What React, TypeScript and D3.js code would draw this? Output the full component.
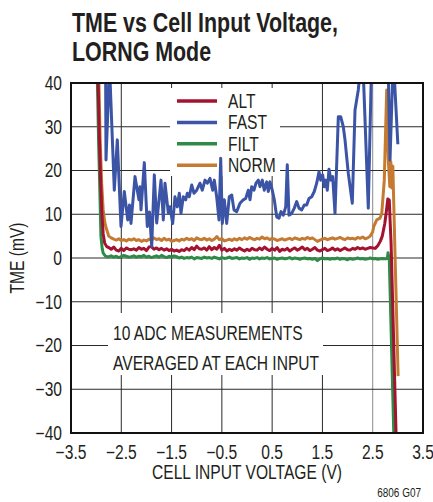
import React from 'react';
import * as d3 from 'd3';

const TITLE_LINES = ['TME vs Cell Input Voltage,', 'LORNG Mode'];
const X_LABEL = 'CELL INPUT VOLTAGE (V)';
const Y_LABEL = 'TME (mV)';
const NOTE_LINES = ['10 ADC MEASUREMENTS', 'AVERAGED AT EACH INPUT'];
const FIG_ID = '6806 G07';

const X_TICKS = [-3.5, -2.5, -1.5, -0.5, 0.5, 1.5, 2.5, 3.5];
const Y_TICKS = [-40, -30, -20, -10, 0, 10, 20, 30, 40];

const SERIES_NAMES = ['ALT', 'FAST', 'FILT', 'NORM'];
const SERIES_COLORS: Record<string, string> = {
  ALT: '#a3132f',
  FAST: '#3b54a6',
  FILT: '#2f8a48',
  NORM: '#c47a30',
};

// flat-region samples start at -2.75 V, every 0.05 V
const BASE_START = -2.75;
const BASE_STEP = 0.05;

const ALT_HEAD: [number, number][] = [
  [-2.99, 48], [-2.96, 40], [-2.935, 27], [-2.91, 17.5], [-2.885, 10],
  [-2.86, 5.5], [-2.83, 3.4], [-2.79, 2.6],
];
const ALT_BASE = [
  2.4, 2.0, 2.5, 1.8, 1.6, 2.2, 1.7, 2.3, 2.0, 1.9,
  2.1, 1.8, 2.4, 2.0, 2.2, 1.7, 2.5, 2.6, 2.0, 2.3,
  1.9, 2.2, 1.8, 2.1, 1.7, 2.0, 1.6, 1.8, 1.5, 1.9,
  1.7, 2.2, 1.8, 2.4, 1.9, 2.7, 2.1, 2.0, 2.3, 1.8,
  2.6, 1.9, 2.4, 2.0, 2.9, 1.8, 2.2, 1.6, 2.0, 1.7,
  2.1, 1.8, 2.3, 1.9, 1.6, 2.0, 1.7, 2.2, 1.9, 1.8,
  2.3, 1.9, 2.5, 2.0, 1.7, 2.2, 1.8, 2.4, 1.5, 2.0,
  1.8, 2.2, 1.6, 2.0, 2.3, 1.8, 2.1, 2.5, 1.9, 2.2,
  1.7, 2.0, 2.4, 1.8, 1.6, 1.9, 2.2, 1.7, 1.9, 2.3,
  1.8, 2.1, 1.7, 2.0, 2.3, 1.9, 1.8, 2.2, 2.0, 2.4,
  2.1, 2.3, 2.0, 2.2, 2.4, 2.3,
];
const ALT_TAIL: [number, number][] = [
  [2.55, 2.2], [2.6, 2.8], [2.65, 3.8], [2.69, 5.0], [2.74, 7.9], [2.77, 10.5],
  [2.8, 13.5], [2.83, 13.2], [2.845, 8.7], [2.865, 3.5], [2.965, -40.5], [2.97, -45],
];

const NORM_HEAD: [number, number][] = [
  [-2.96, 48], [-2.945, 40], [-2.92, 27], [-2.89, 17], [-2.86, 11],
  [-2.83, 8.3], [-2.8, 6.8], [-2.77, 5.8],
];
const NORM_BASE = [
  5.0, 4.6, 4.3, 4.1, 4.4, 4.0, 4.2, 3.9, 4.3, 4.1,
  4.4, 4.0, 4.2, 3.8, 4.1, 3.9, 4.3, 4.1, 4.6, 4.2,
  4.4, 4.0, 4.5, 4.1, 4.3, 3.8, 4.0, 4.2, 3.9, 4.3,
  4.1, 4.5, 4.2, 4.4, 4.0, 4.6, 4.3, 4.2, 4.5, 4.1,
  4.4, 4.0, 4.3, 4.9, 4.2, 4.4, 3.9, 4.1, 4.3, 4.0,
  4.4, 4.1, 4.5, 4.2, 4.6, 4.3, 4.7, 4.4, 4.2, 4.5,
  4.3, 4.8, 4.4, 4.6, 4.2, 4.5, 4.3, 4.0, 4.2, 4.4,
  4.1, 4.3, 4.5, 4.2, 4.6, 4.4, 4.2, 4.5, 4.3, 4.7,
  4.4, 4.6, 4.2, 3.8, 4.1, 4.3, 4.5, 4.2, 4.4, 4.6,
  4.3, 4.5, 4.7, 4.4, 4.2, 4.6, 4.4, 4.5, 4.3, 4.7,
  4.5, 4.8, 4.4, 4.6, 5.0,
];
const NORM_TAIL: [number, number][] = [
  [2.5, 6.0], [2.52, 7.2], [2.58, 8.7], [2.645, 9.1], [2.68, 10.2], [2.73, 17.8],
  [2.778, 38.4], [2.81, 22.4], [2.84, 16.3], [2.86, 22.0], [2.88, 16.0],
  [2.9, 21.0], [2.91, 16.3], [3.005, -27],
];

const FILT_HEAD: [number, number][] = [
  [-2.985, 48], [-2.975, 40], [-2.95, 26], [-2.93, 17], [-2.905, 5],
  [-2.88, 2.2], [-2.86, 1.1], [-2.82, 0.5], [-2.79, 0.3],
];
const FILT_BASE = [
  0.3, 0.5, 0.2, 0.4, 0.1, 0.3, 0.6, 0.4, 0.2, 0.3,
  0.5, 0.2, 0.4, 0.3, 0.6, 0.2, 0.4, 0.1, 0.3, 0.5,
  0.2, 0.6, 0.3, 0.1, 0.4, 0.2, 0.5, 0.3, 0.0, 0.2,
  -0.1, 0.1, 0.0, 0.2, -0.2, 0.1, 0.0, -0.1, 0.2, 0.0,
  0.1, -0.1, 0.2, 0.0, -0.2, 0.1, -0.1, 0.0, 0.2, -0.1,
  0.0, 0.1, -0.2, 0.0, -0.1, 0.1, -0.3, 0.0, -0.1, 0.1,
  -0.2, 0.0, -0.1, 0.1, -0.2, -0.1, 0.0, -0.3, -0.1, 0.0,
  -0.2, -0.1, 0.1, -0.2, 0.0, -0.1, -0.3, -0.1, 0.0, -0.2,
  -0.1, -0.3, -0.1, -0.6, -0.2, 0.0, -0.2, -0.1, -0.3, -0.1,
  -0.2, 0.0, -0.3, -0.1, -0.2, -0.4, -0.1, -0.3, -0.2, 0.0,
  -0.2, -0.1, -0.3, -0.2, 0.0, -0.2, -0.1, -0.3, -0.2, -0.1, -0.2,
];
const FILT_TAIL: [number, number][] = [
  [2.79, -0.1], [2.805, 1.2], [2.83, -0.5], [2.92, -40.5], [2.925, -45],
];

const FAST_POINTS: [number, number][] = [
  [-2.814, 48], [-2.804, 22.4], [-2.734, 44], [-2.639, 15.5], [-2.579, 27.0],
  [-2.506, 7.2], [-2.44, 15.2], [-2.372, 8.7], [-2.337, 12.1], [-2.307, 7.9],
  [-2.227, 18.6], [-2.182, 15.5], [-2.148, 13.3], [-2.128, 16.3], [-2.108, 11.0],
  [-2.042, 21.8], [-1.983, 7.2], [-1.939, 10.5], [-1.895, 2.6], [-1.843, 19.0],
  [-1.796, 8.0], [-1.71, 17.8], [-1.664, 8.7], [-1.631, 17.1], [-1.565, 10.3],
  [-1.531, 11.7], [-1.478, 7.9], [-1.432, 14.0], [-1.386, 11.7], [-1.346, 14.8],
  [-1.313, 10.2], [-1.267, 14.0], [-1.219, 13.3], [-1.187, 14.8], [-1.148, 14.0],
  [-1.1, 16.7], [-1.054, 14.8], [-1.0, 15.5], [-0.935, 17.1], [-0.889, 15.5],
  [-0.835, 17.8], [-0.79, 17.1], [-0.736, 18.2], [-0.682, 15.5], [-0.65, 17.8],
  [-0.603, 14.0], [-0.557, 8.7], [-0.523, 22.8], [-0.491, 7.9], [-0.451, 13.3],
  [-0.404, 7.9], [-0.352, 14.0], [-0.304, 14.4], [-0.259, 11.0], [-0.205, 10.6],
  [-0.139, 12.5], [-0.074, 13.3], [-0.026, 13.6], [0.026, 15.5], [0.06, 13.3],
  [0.093, 16.3], [0.139, 15.5], [0.179, 17.1], [0.225, 17.8], [0.258, 16.3],
  [0.304, 17.8], [0.344, 15.5], [0.392, 17.4], [0.424, 15.2], [0.457, 17.4],
  [0.503, 15.5], [0.543, 13.3], [0.591, 9.4], [0.636, 9.1], [0.676, 10.6],
  [0.722, 9.8], [0.77, 11.7], [0.801, 21.3], [0.835, 9.8], [0.889, 10.2],
  [0.941, 11.4], [0.988, 12.9], [1.034, 11.4], [1.088, 11.0], [1.14, 12.1],
  [1.187, 12.1], [1.233, 13.6], [1.287, 14.0], [1.338, 15.2], [1.386, 17.1],
  [1.432, 19.7], [1.466, 17.8], [1.505, 19.0], [1.537, 16.3], [1.565, 17.8],
  [1.597, 15.5], [1.631, 20.3], [1.67, 17.8], [1.704, 18.6], [1.75, 10.2],
  [1.784, 21.6], [1.816, 32.3], [1.863, 32.3], [1.915, 30.0], [1.949, 27.0],
  [2.014, 19.4], [2.094, 12.5], [2.148, 33.8], [2.213, 38.4], [2.277, 46],
  [2.307, 44], [2.412, 11.4], [2.48, 46], [2.65, 60], [2.81, 42],
  [2.844, 22.4], [2.909, 46], [3.0, 26.0],
];

function buildSeries(head: [number, number][], base: number[], tail: [number, number][]) {
  return [
    ...head,
    ...base.map((y, i) => [BASE_START + i * BASE_STEP, y] as [number, number]),
    ...tail,
  ];
}

const SERIES: Record<string, [number, number][]> = {
  ALT: buildSeries(ALT_HEAD, ALT_BASE, ALT_TAIL),
  FAST: FAST_POINTS,
  FILT: buildSeries(FILT_HEAD, FILT_BASE, FILT_TAIL),
  NORM: buildSeries(NORM_HEAD, NORM_BASE, NORM_TAIL),
};
const DRAW_ORDER = ['NORM', 'FILT', 'ALT', 'FAST'];

const W = 433;
const H = 502;
const M = { left: 71, right: 423, top: 83, bottom: 433 };
const FONT = "'Liberation Sans', Arial, sans-serif";
const TXT = '#231f20';
const NARROW = 0.8;

const fmtX = (v: number) => (v < 0 ? '\u2212' : '') + Math.abs(v).toFixed(1);
const fmtY = (v: number) => (v < 0 ? '\u2212' : '') + Math.abs(v);

type NTProps = {
  x: number;
  y: number;
  size: number;
  anchor?: 'start' | 'middle' | 'end';
  weight?: string;
  rotate?: number;
  dy?: string;
  sx?: number;
  children: React.ReactNode;
};

function NText({ x, y, size, anchor = 'start', weight = 'normal', rotate = 0, dy, sx = NARROW, children }: NTProps) {
  return (
    <text
      transform={`translate(${x},${y}) rotate(${rotate}) scale(${sx},1)`}
      textAnchor={anchor}
      fontSize={size}
      fontWeight={weight}
      fill={TXT}
      dy={dy}
    >
      {children}
    </text>
  );
}

export default function App() {
  const x = d3.scaleLinear().domain([-3.5, 3.5]).range([M.left, M.right]);
  const y = d3.scaleLinear().domain([-40, 40]).range([M.bottom, M.top]);
  const line = d3
    .line<[number, number]>()
    .x((d) => x(d[0]))
    .y((d) => y(d[1]));

  const legendY0 = 101;
  const legendDy = 21.4;

  return (
    <svg
      width={W}
      height={H}
      style={{ position: 'absolute', left: 0, top: 0, background: '#fff' }}
      fontFamily={FONT}
    >
      <defs>
        <clipPath id="plotClip">
          <rect x={M.left} y={M.top} width={M.right - M.left} height={M.bottom - M.top} />
        </clipPath>
      </defs>
      <rect x={0} y={0} width={W} height={H} fill="#fff" />

      {TITLE_LINES.map((t, i) => (
        <NText key={t} x={72} y={32 + i * 29} size={28} weight="bold" sx={0.765}>
          {t}
        </NText>
      ))}

      {/* grid */}
      {X_TICKS.map((v) => (
        <line
          key={'gx' + v}
          x1={x(v)}
          x2={x(v)}
          y1={M.top}
          y2={M.bottom}
          stroke={v === 2.5 ? '#8a8a8a' : '#2a2a2a'}
          strokeWidth={1}
        />
      ))}
      {Y_TICKS.map((v) => (
        <line
          key={'gy' + v}
          x1={M.left}
          x2={M.right}
          y1={y(v)}
          y2={y(v)}
          stroke="#2a2a2a"
          strokeWidth={1}
        />
      ))}

      {/* legend and note backgrounds */}
      <rect x={170} y={88} width={110} height={88} fill="#fff" />
      <rect x={108} y={313} width={215} height={62} fill="#fff" />

      {/* series */}
      <g clipPath="url(#plotClip)">
        {DRAW_ORDER.map((name) => (
          <path
            key={name}
            d={line(SERIES[name]) || ''}
            fill="none"
            stroke={SERIES_COLORS[name]}
            strokeWidth={3}
            strokeLinejoin="round"
          />
        ))}
      </g>

      {/* frame */}
      <rect
        x={M.left}
        y={M.top}
        width={M.right - M.left}
        height={M.bottom - M.top}
        fill="none"
        stroke="#111"
        strokeWidth={2}
      />

      {/* legend */}
      {SERIES_NAMES.map((name, i) => {
        const ly = legendY0 + i * legendDy;
        return (
          <g key={'lg' + name}>
            <line x1={177} x2={217} y1={ly} y2={ly} stroke={SERIES_COLORS[name]} strokeWidth={3.5} />
            <NText x={228} y={ly + 7} size={19.5}>
              {name}
            </NText>
          </g>
        );
      })}

      {/* note */}
      {NOTE_LINES.map((t, i) => (
        <NText key={t} x={113} y={340 + i * 30} size={19.5}>
          {t}
        </NText>
      ))}

      {/* y ticks */}
      {Y_TICKS.map((v) => (
        <NText key={'ty' + v} x={62} y={y(v)} dy="0.35em" anchor="end" size={19.5}>
          {fmtY(v)}
        </NText>
      ))}
      {/* x ticks */}
      {X_TICKS.map((v) => (
        <NText key={'tx' + v} x={x(v)} y={459} anchor="middle" size={19.5}>
          {fmtX(v)}
        </NText>
      ))}

      <NText x={(M.left + M.right) / 2} y={479} anchor="middle" size={19.5}>
        {X_LABEL}
      </NText>
      <NText x={24} y={(M.top + M.bottom) / 2} anchor="middle" size={19.5} rotate={-90}>
        {Y_LABEL}
      </NText>
      <NText x={421} y={497} anchor="end" size={12.5}>
        {FIG_ID}
      </NText>
    </svg>
  );
}
